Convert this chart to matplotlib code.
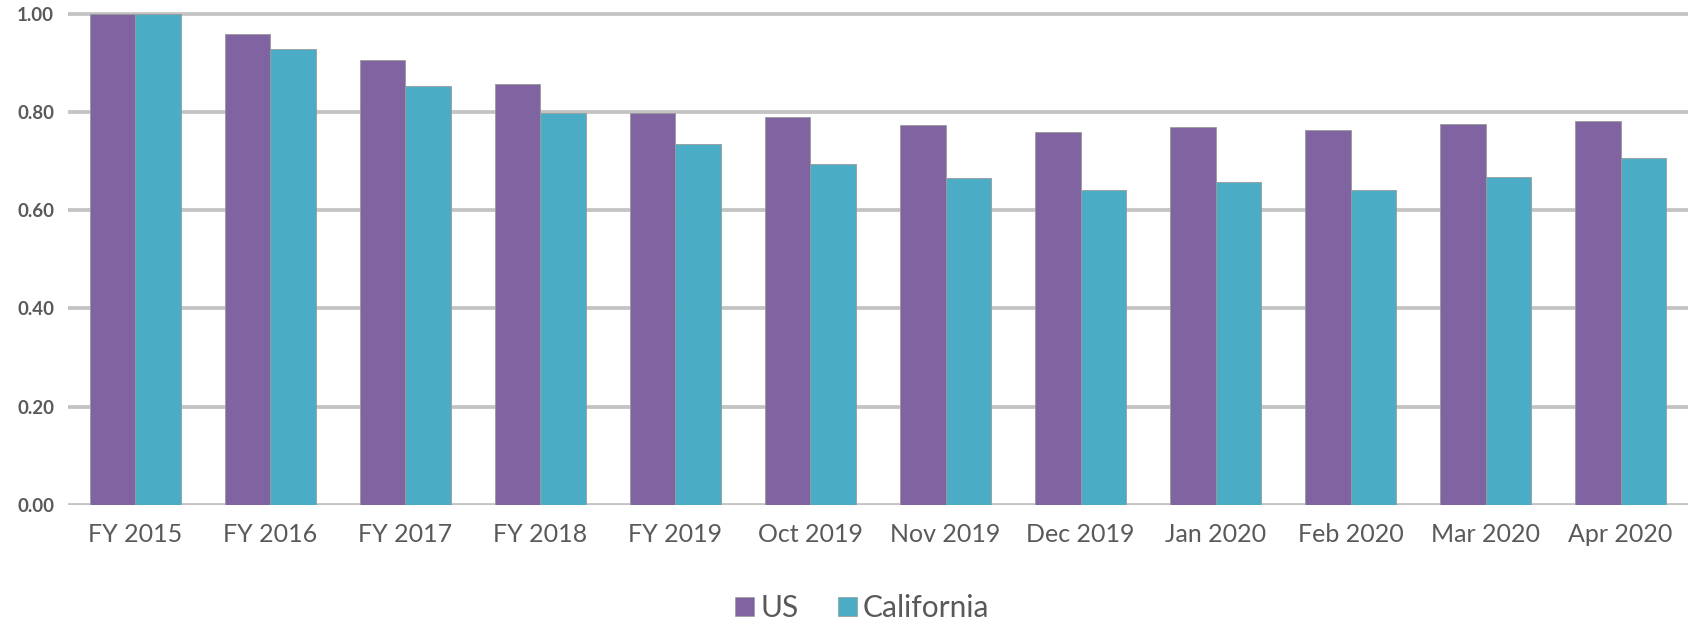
import matplotlib
matplotlib.use("Agg")
import matplotlib.pyplot as plt
import numpy as np
from matplotlib.patches import Patch

categories = ["FY 2015", "FY 2016", "FY 2017", "FY 2018", "FY 2019", "Oct 2019",
              "Nov 2019", "Dec 2019", "Jan 2020", "Feb 2020", "Mar 2020", "Apr 2020"]
us = [1.00, 0.959, 0.906, 0.857, 0.798, 0.789, 0.773, 0.759, 0.770, 0.764, 0.776, 0.782]
california = [1.00, 0.928, 0.852, 0.798, 0.735, 0.694, 0.665, 0.642, 0.658, 0.641, 0.667, 0.707]
yticks = [0.0, 0.2, 0.4, 0.6, 0.8, 1.0]
series_names = ["US", "California"]

plt.rcParams['font.family'] = ['Lato', 'DejaVu Sans']

fig = plt.figure(figsize=(16.94, 6.22), dpi=100)
ax = fig.add_axes([0.0401, 0.188, 0.9564, 0.7895 + 0.0035])

purple = "#8064A2"
teal = "#4BACC6"
x = np.arange(len(categories))
w = 0.337
ax.bar(x - w / 2, us, w, color=purple, edgecolor="#9a9a9a", linewidth=0.6, zorder=3)
ax.bar(x + w / 2, california, w, color=teal, edgecolor="#9a9a9a", linewidth=0.6, zorder=3)

ax.set_xlim(-0.5, len(categories) - 0.5)
ax.set_ylim(0, 1.0035)
ax.set_yticks(yticks)
ax.set_yticklabels([f"{v:.2f}" for v in yticks], fontsize=13.5, color="#595959", fontweight="bold")
ax.set_xticks(x)
ax.set_xticklabels(categories, fontsize=18, color="#595959")
ax.tick_params(axis="both", length=0)
ax.tick_params(axis="x", pad=13)
ax.tick_params(axis="y", pad=10)
for s in ax.spines.values():
    s.set_visible(False)
ax.yaxis.grid(True, color="#C3C3C3", linewidth=2.7, zorder=0)
ax.set_axisbelow(True)

handles = [Patch(facecolor=purple, edgecolor="#9a9a9a", linewidth=0.5),
           Patch(facecolor=teal, edgecolor="#9a9a9a", linewidth=0.5)]
leg = fig.legend(handles, series_names, loc="center", bbox_to_anchor=(0.509, 0.0225),
                 ncol=2, frameon=False, fontsize=21.5, handlelength=0.65, handleheight=0.65,
                 handletextpad=0.2, columnspacing=1.3, borderaxespad=0)
for t in leg.get_texts():
    t.set_color("#595959")

fig.savefig("out.png", dpi=100)
